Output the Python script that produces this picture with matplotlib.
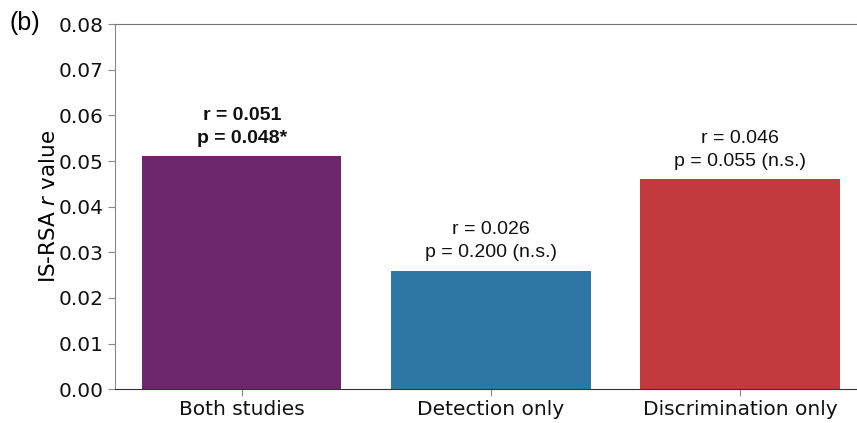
import numpy as np
import matplotlib
matplotlib.use('Agg')
from matplotlib import pyplot as plt

# IS-RSA results per dataset
groups = ['Both studies', 'Detection only', 'Discrimination only']
r_values = [0.051, 0.026, 0.046]
p_values = [0.048, 0.200, 0.055]
significant = [True, False, False]
bar_colors = ['#6c266c', '#2e76a4', '#c23a3e']

plt.rcParams['font.family'] = ['Liberation Sans', 'DejaVu Sans']

fig = plt.figure(figsize=(8.57, 4.23), dpi=100)
ax = fig.add_axes([0.134, 0.080, 0.866, 0.863])

x = np.arange(len(groups))
ax.bar(x, r_values, width=0.8, color=bar_colors)

# r / p labels above each bar
for xi, r, p, sig in zip(x, r_values, p_values, significant):
    if sig:
        label = f'r = {r:.3f}\np = {p:.3f}*'
        weight = 'bold'
    else:
        label = f'r = {r:.3f}\np = {p:.3f} (n.s.)'
        weight = 'normal'
    ax.annotate(label, (xi, r), xytext=(0, 7), textcoords='offset points',
                ha='center', va='bottom', fontsize=14, fontweight=weight,
                linespacing=1.45, color='#111111')

ax.set_xlim(-0.51, 2.47)
ax.set_ylim(0, 0.08)
yticks = np.arange(0, 0.081, 0.01)
ax.set_yticks(yticks)
ax.set_yticklabels([f'{v:.2f}' for v in yticks], fontsize=14.5, family='DejaVu Sans')
ax.set_xticks(x)
ax.set_xticklabels(groups, fontsize=14.5, family='DejaVu Sans')
ax.set_ylabel('IS-RSA $r$ value', fontsize=15.5, family='DejaVu Sans', labelpad=0)

ax.spines['right'].set_visible(False)
ax.spines['top'].set_color('#777777')
ax.spines['left'].set_color('#888888')
ax.spines['bottom'].set_color('#333333')
ax.tick_params(axis='both', colors='#888888', labelcolor='#111111', length=5, pad=3)

fig.text(0.011, 0.975, '(b)', fontsize=18, va='top', ha='left')

fig.savefig('out.png', dpi=100)
